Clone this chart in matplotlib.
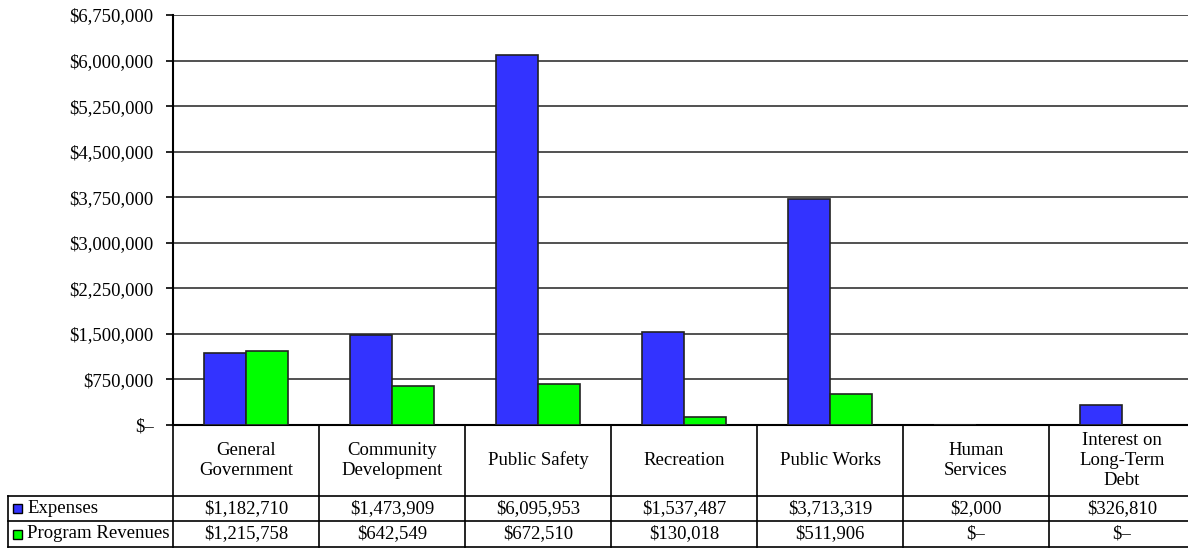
import matplotlib
matplotlib.use('Agg')
import matplotlib.pyplot as plt
from matplotlib.ticker import FuncFormatter, MultipleLocator
from matplotlib.patches import Rectangle

categories = ['General\nGovernment', 'Community\nDevelopment', 'Public Safety', 'Recreation',
              'Public Works', 'Human\nServices', 'Interest on\nLong-Term\nDebt']
expenses = [1182710, 1473909, 6095953, 1537487, 3713319, 2000, 326810]
revenues = [1215758, 642549, 672510, 130018, 511906, 0, 0]
series_names = ['Expenses', 'Program Revenues']
blue = '#3333ff'
green = '#00ff00'

plt.rcParams['font.family'] = ['Liberation Serif', 'DejaVu Serif']
fs = 13.5


def money(v, pos=None):
	if v == 0:
		return '$\u2013'
	return '${:,.0f}'.format(v)


fig = plt.figure(figsize=(11.88, 5.5), dpi=100)
W, H = 1188., 550.
ax = fig.add_axes([173 / W, 1 - 425 / H, (1195 - 173) / W, 410 / H])

n = len(categories)
xs = list(range(n))
bw = 0.285
ax.bar([x - bw for x in xs], expenses, width=bw, align='edge', color=blue, edgecolor='#222222',
	   linewidth=[1.2 if v else 0 for v in expenses], zorder=3)
ax.bar(xs, revenues, width=bw, align='edge', color=green, edgecolor='#222222',
	   linewidth=[1.2 if v else 0 for v in revenues], zorder=3)

ax.set_xlim(-0.5, n - 0.5)
ax.set_ylim(0, 6750000)
ax.yaxis.set_major_locator(MultipleLocator(750000))
ax.yaxis.set_major_formatter(FuncFormatter(money))
ax.yaxis.grid(True, color='#333333', linewidth=1.2, zorder=0)
ax.set_xticks([])
ax.tick_params(axis='y', direction='out', length=5, width=1.2, pad=9, labelsize=fs)
for s in ['top', 'right']:
	ax.spines[s].set_visible(False)
ax.spines['left'].set_linewidth(1.5)
ax.spines['bottom'].set_linewidth(1.5)
ax.spines['bottom'].set_zorder(2)

# data table under the chart
tr = ax.get_xaxis_transform()
px = 146.0  # pixels per category slot
y_rows = [0, -71 / 410, -96 / 410, -122 / 410]
x_left = -0.5 - (173 - 8) / px
kw = dict(transform=tr, clip_on=False, color='black', linewidth=1.2)
for y in y_rows[1:]:
	ax.plot([x_left, n - 0.5], [y, y], **kw)
ax.plot([x_left, x_left], [y_rows[1], y_rows[3]], **kw)
for i in range(n + 1):
	ax.plot([i - 0.5, i - 0.5], [0, y_rows[3]], **kw)

for i, c in enumerate(categories):
	ax.text(i, (y_rows[0] + y_rows[1]) / 2, c, transform=tr, ha='center', va='center',
			fontsize=fs, linespacing=1.2)
	ax.text(i, (y_rows[1] + y_rows[2]) / 2, money(expenses[i]), transform=tr, ha='center', va='center', fontsize=fs)
	ax.text(i, (y_rows[2] + y_rows[3]) / 2, money(revenues[i]), transform=tr, ha='center', va='center', fontsize=fs)

for k, (name, col) in enumerate(zip(series_names, [blue, green])):
	yc = (y_rows[k + 1] + y_rows[k + 2]) / 2
	sw = 9 / px
	sh = 9 / 410
	ax.add_patch(Rectangle((x_left + 5 / px, yc - sh / 2), sw, sh, transform=tr, clip_on=False,
						   facecolor=col, edgecolor='black', linewidth=1))
	ax.text(x_left + 19 / px, yc, name, transform=tr, ha='left', va='center', fontsize=fs)

fig.savefig('out.png', dpi=100)
